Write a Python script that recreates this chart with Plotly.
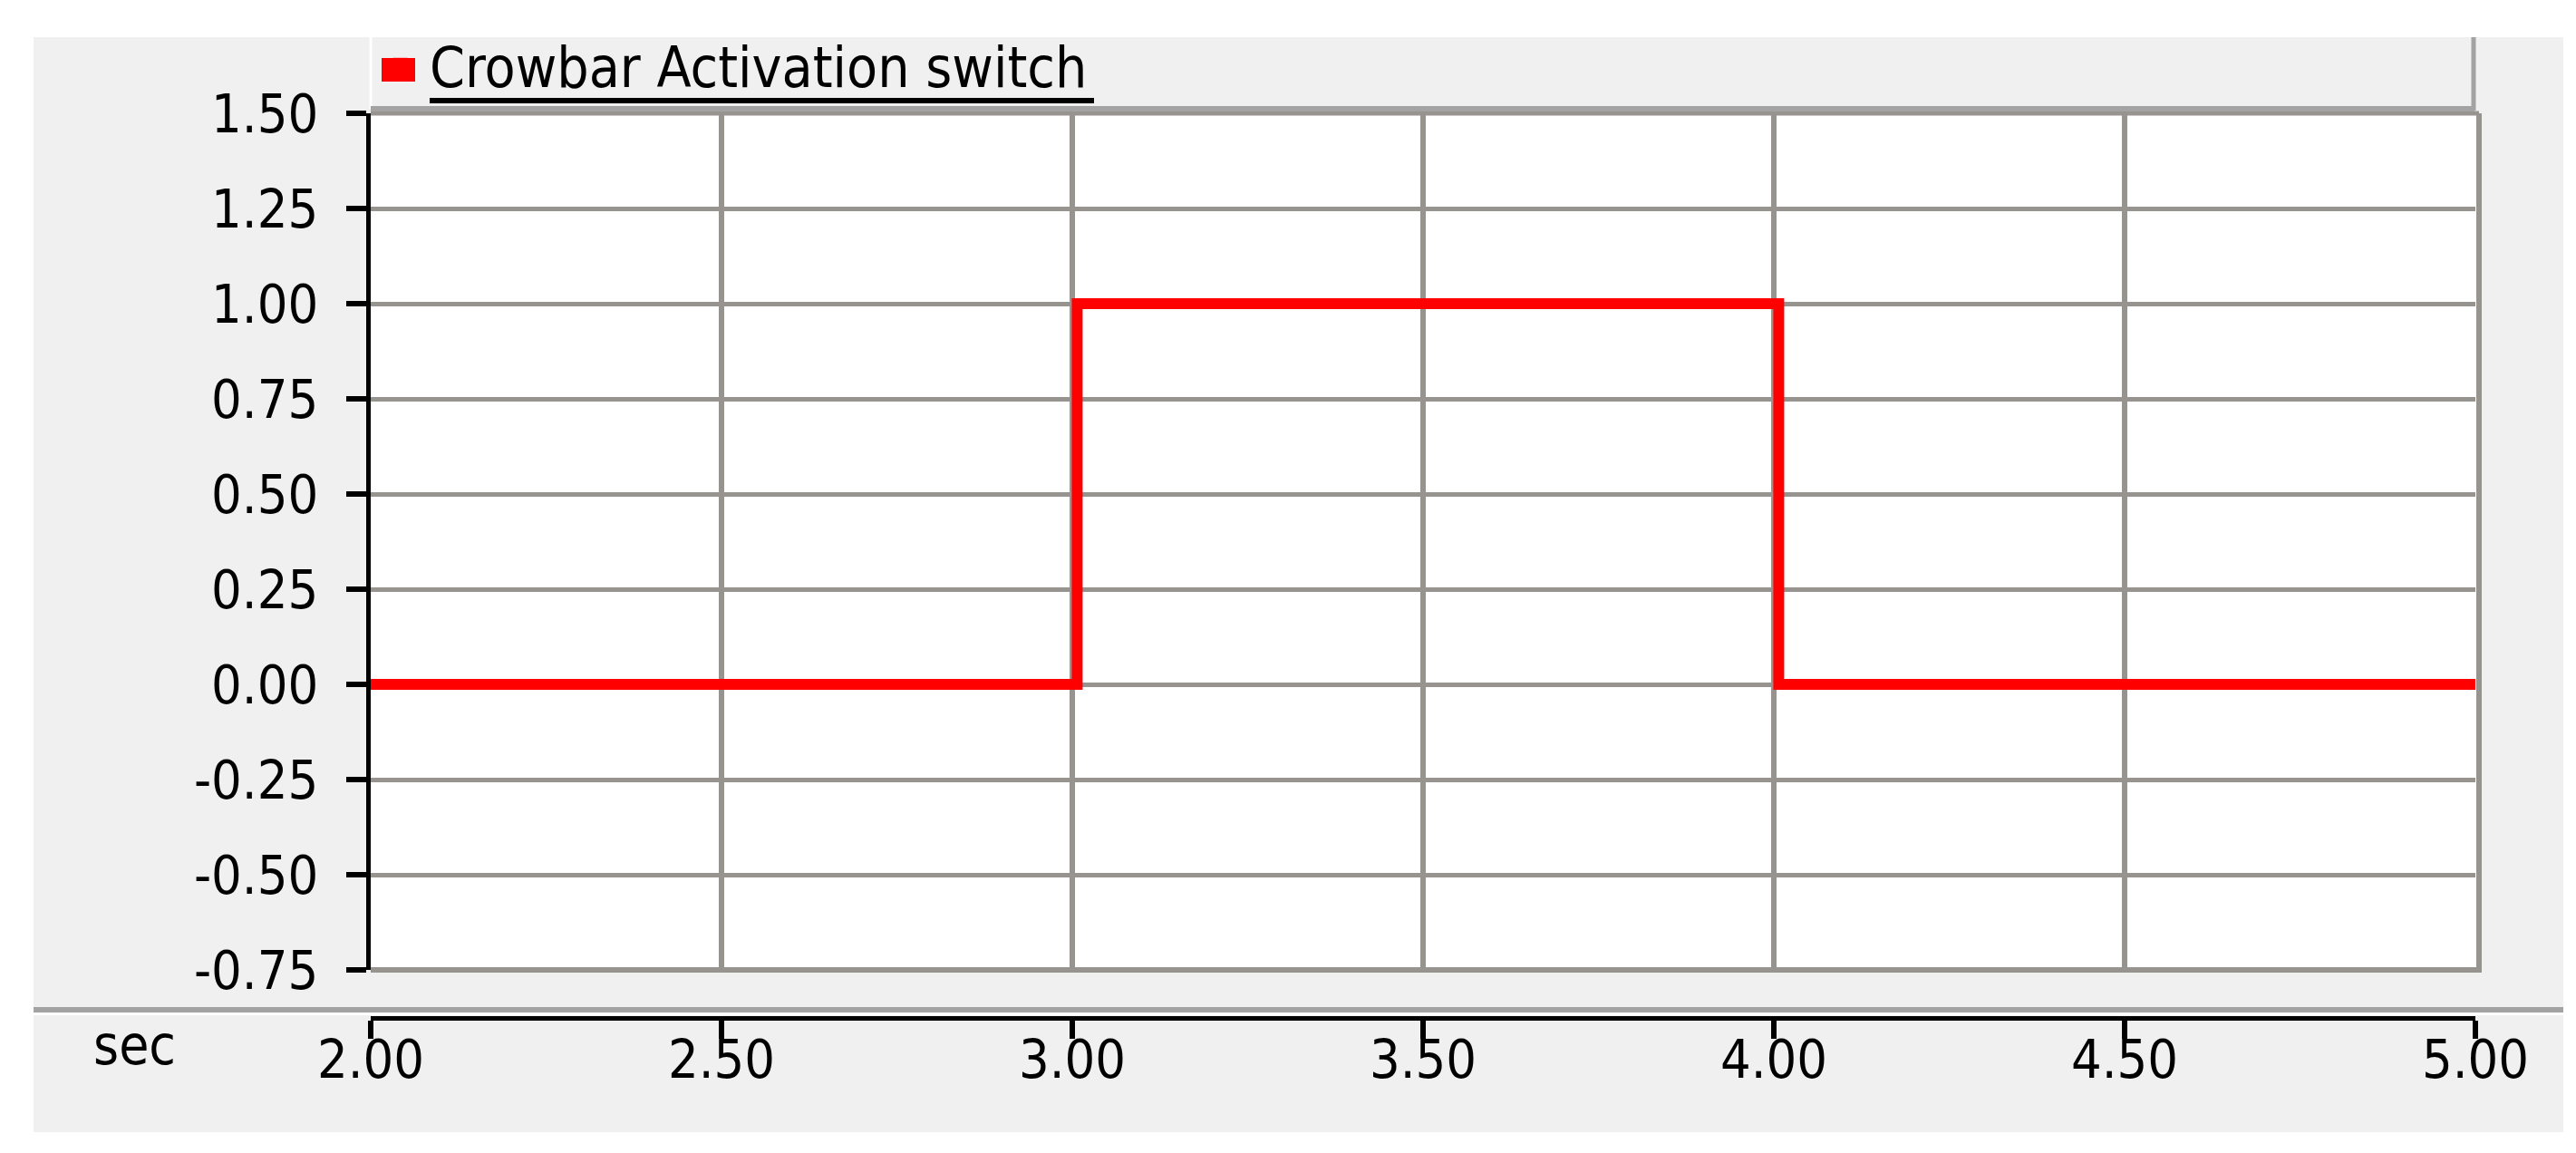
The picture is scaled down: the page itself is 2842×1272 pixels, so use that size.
import plotly.graph_objects as go

# Step signal of the crowbar switch (time in seconds, state 0/1)
time_s = [2.0, 3.007, 3.007, 4.007, 4.007, 5.0]
switch_state = [0, 0, 1, 1, 0, 0]
series_name = "Crowbar Activation switch"

x_ticks = [2.0, 2.5, 3.0, 3.5, 4.0, 4.5, 5.0]
y_ticks = [-0.75, -0.5, -0.25, 0.0, 0.25, 0.5, 0.75, 1.0, 1.25, 1.5]

W, H = 2842, 1272
L, R, T, B = 401, 119, 117, 157
GRID = "#97938f"
RED = "#ff0000"
FONT = "DejaVu Sans Condensed, DejaVu Sans, sans-serif"


def px(x):
    return (x - L) / (W - L - R)


def py(y):
    return (H - B - y) / (H - T - B)


fig = go.Figure()
fig.add_trace(
    go.Scatter(
        x=time_s,
        y=switch_state,
        mode="lines",
        name=series_name,
        legendgroup="crowbar",
        line=dict(color=RED, width=12),
        showlegend=False,
    )
)
# legend entry drawn as a square swatch, like the source tool
fig.add_trace(
    go.Scatter(
        x=[None],
        y=[None],
        mode="markers",
        name=series_name,
        legendgroup="crowbar",
        marker=dict(symbol="square", color=RED, size=16),
        showlegend=True,
    )
)

shapes = [
    # grey panel
    dict(type="rect", xref="paper", yref="paper", x0=px(29), x1=px(2820),
         y0=py(1241), y1=py(33), fillcolor="#f0f0f0", line_width=0, layer="below"),
    # white plot area
    dict(type="rect", xref="paper", yref="paper", x0=0, x1=px(2727),
         y0=py(1062), y1=1, fillcolor="white", line_width=0, layer="below"),
    # legend strip edges
    dict(type="line", xref="paper", yref="paper", x0=px(401), x1=px(401),
         y0=py(112), y1=py(33), line=dict(color="white", width=3)),
    dict(type="line", xref="paper", yref="paper", x0=px(401), x1=px(2722),
         y0=py(112), y1=py(112), line=dict(color="#a3a3a3", width=6)),
    dict(type="line", xref="paper", yref="paper", x0=px(2721), x1=px(2721),
         y0=py(114), y1=py(33), line=dict(color="#a3a3a3", width=5)),
    # legend swatch and underline
    dict(type="rect", xref="paper", yref="paper", x0=px(413), x1=px(450),
         y0=py(82), y1=py(56), fillcolor=RED, line_width=0),
    dict(type="line", xref="paper", yref="paper", x0=px(466), x1=px(1199),
         y0=py(103), y1=py(103), line=dict(color="black", width=6)),
    # separator between plot and time axis
    dict(type="line", xref="paper", yref="paper", x0=px(29), x1=px(2820),
         y0=py(1106), y1=py(1106), line=dict(color="#a3a3a3", width=6)),
    dict(type="line", xref="paper", yref="paper", x0=px(29), x1=px(2820),
         y0=py(1110.5), y1=py(1110.5), line=dict(color="white", width=3)),
    # plot frame (top, bottom, right)
    dict(type="line", xref="paper", yref="paper", x0=0, x1=px(2727),
         y0=1, y1=1, line=dict(color=GRID, width=5), layer="below"),
    dict(type="line", xref="paper", yref="paper", x0=0, x1=px(2727),
         y0=py(1062), y1=py(1062), line=dict(color=GRID, width=6), layer="below"),
    dict(type="line", xref="paper", yref="paper", x0=px(2727), x1=px(2727),
         y0=py(1065), y1=1, line=dict(color=GRID, width=6)),
]

fig.update_layout(
    width=W,
    height=H,
    margin=dict(l=L, r=R, t=T, b=B),
    paper_bgcolor="white",
    plot_bgcolor="white",
    font=dict(family=FONT, size=59, color="black"),
    shapes=shapes,
    showlegend=True,
    legend=dict(
        x=0,
        xanchor="left",
        y=py(64),
        yanchor="middle",
        bgcolor="rgba(0,0,0,0)",
        font=dict(family=FONT, size=62, color="black"),
        itemwidth=55,
    ),
    annotations=[
        dict(text="sec", xref="paper", yref="paper", x=px(140), y=py(1145),
             xanchor="center", yanchor="middle", showarrow=False,
             font=dict(family=FONT, size=60, color="black")),
    ],
    xaxis=dict(
        range=[2, 5],
        tickvals=x_ticks,
        ticktext=[f"{v:.2f}" for v in x_ticks],
        anchor="free",
        position=0,
        showline=True,
        linecolor="black",
        linewidth=5,
        ticks="outside",
        ticklen=20,
        tickwidth=6,
        tickcolor="black",
        ticklabelstandoff=-28,
        showgrid=True,
        gridcolor=GRID,
        gridwidth=6,
        zeroline=False,
    ),
    yaxis=dict(
        range=[-0.75, 1.5],
        domain=[py(1062), 1],
        tickvals=y_ticks,
        ticktext=[f"{v:.2f}" for v in y_ticks],
        showline=True,
        linecolor="black",
        linewidth=5,
        ticks="outside",
        ticklen=22,
        tickwidth=6,
        tickcolor="black",
        ticklabelstandoff=19,
        showgrid=True,
        gridcolor=GRID,
        gridwidth=5,
        zeroline=False,
    ),
)

fig.write_html("out.html")
